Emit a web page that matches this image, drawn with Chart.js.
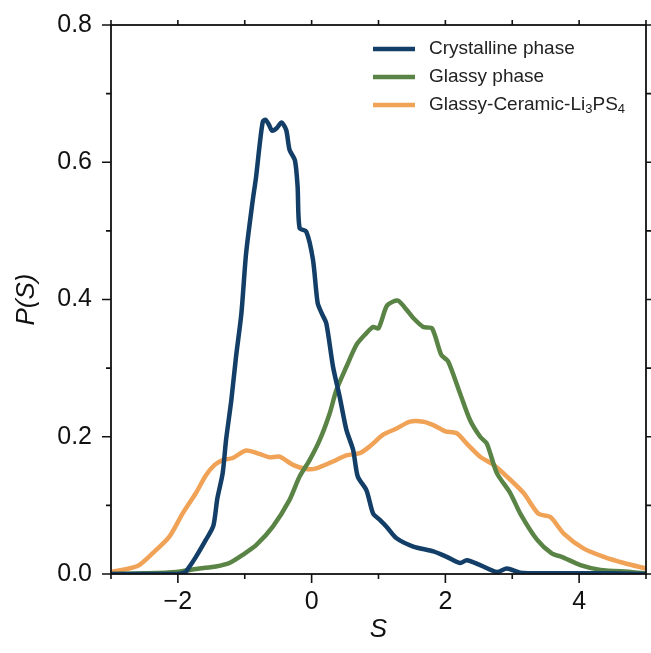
<!DOCTYPE html>
<html>
<head>
<meta charset="utf-8">
<script src="https://cdn.jsdelivr.net/npm/chart.js@4"></script>
<style>
  html, body { margin: 0; padding: 0; background: #fff; }
  #wrap { width: 651px; height: 653px; }
</style>
</head>
<body>
<div id="wrap"><canvas id="distChart" width="651" height="653"></canvas></div>
<script>
// Crystalline phase
const crystS = [-3.0, -2.5, -2.0, -1.9, -1.86, -1.73, -1.58, -1.47, -1.41, -1.33, -1.28, -1.20, -1.13, -1.05, -0.98, -0.88, -0.83, -0.78, -0.73, -0.69, -0.64, -0.59, -0.52, -0.45, -0.38, -0.33, -0.25, -0.21, -0.18, -0.08, 0.02, 0.09, 0.15, 0.22, 0.32, 0.42, 0.52, 0.62, 0.69, 0.82, 0.92, 1.02, 1.12, 1.27, 1.52, 1.82, 2.02, 2.22, 2.32, 2.52, 2.77, 2.92, 3.12, 3.5, 4.0, 4.5, 5.0];
const crystP = [0, 0, 0, 0.002, 0.006, 0.025, 0.05, 0.07, 0.11, 0.147, 0.195, 0.254, 0.317, 0.38, 0.467, 0.545, 0.579, 0.623, 0.659, 0.662, 0.655, 0.646, 0.65, 0.658, 0.647, 0.618, 0.603, 0.565, 0.504, 0.499, 0.458, 0.395, 0.38, 0.365, 0.302, 0.258, 0.21, 0.181, 0.142, 0.122, 0.088, 0.079, 0.069, 0.052, 0.04, 0.033, 0.025, 0.016, 0.02, 0.013, 0.003, 0.008, 0.002, 0.001, 0.001, 0.001, 0];

// Glassy phase
const glassS = [-3.0, -2.5, -2.03, -1.68, -1.43, -1.23, -1.03, -0.83, -0.58, -0.33, -0.18, -0.03, 0.12, 0.27, 0.37, 0.52, 0.67, 0.82, 0.92, 1.0, 1.12, 1.22, 1.3, 1.42, 1.52, 1.67, 1.8, 1.94, 2.04, 2.22, 2.37, 2.52, 2.62, 2.77, 2.97, 3.12, 3.37, 3.59, 3.74, 4.02, 4.32, 4.77, 5.0];
const glassP = [0, 0.001, 0.003, 0.008, 0.011, 0.016, 0.028, 0.042, 0.069, 0.108, 0.142, 0.166, 0.195, 0.234, 0.268, 0.302, 0.334, 0.351, 0.36, 0.358, 0.39, 0.397, 0.398, 0.385, 0.373, 0.36, 0.358, 0.319, 0.31, 0.263, 0.224, 0.2, 0.19, 0.147, 0.118, 0.088, 0.05, 0.03, 0.025, 0.013, 0.006, 0.003, 0.001];

// Glassy-Ceramic-Li3PS4
const ceramS = [-3.0, -2.73, -2.58, -2.38, -2.13, -1.93, -1.73, -1.58, -1.45, -1.33, -1.18, -0.98, -0.78, -0.63, -0.48, -0.28, -0.08, 0.07, 0.32, 0.52, 0.72, 0.87, 1.07, 1.27, 1.47, 1.67, 1.82, 2.0, 2.17, 2.32, 2.52, 2.72, 2.92, 3.17, 3.39, 3.57, 3.77, 4.07, 4.37, 4.67, 5.0];
const ceramP = [0.003, 0.008, 0.013, 0.03, 0.054, 0.088, 0.118, 0.144, 0.159, 0.166, 0.169, 0.18, 0.175, 0.17, 0.171, 0.159, 0.153, 0.154, 0.164, 0.173, 0.176, 0.186, 0.203, 0.212, 0.222, 0.222, 0.217, 0.208, 0.205, 0.19, 0.171, 0.159, 0.142, 0.118, 0.088, 0.083, 0.059, 0.037, 0.025, 0.016, 0.008];

const seriesNames = ['Crystalline phase', 'Glassy phase', 'Glassy-Ceramic-Li3PS4'];
const seriesColors = ['#123e67', '#5a8445', '#f0a257'];

const xMin = -3, xMax = 5, yMin = 0, yMax = 0.8;
const fontFamily = '"Liberation Sans", Arial, sans-serif';

function toPoints(xs, ys) {
    return xs.map((x, i) => ({ x: x, y: ys[i] }));
}

const datasets = [
    toPoints(crystS, crystP),
    toPoints(glassS, glassP),
    toPoints(ceramS, ceramP)
].map((pts, i) => ({
    label: seriesNames[i],
    data: pts,
    borderColor: seriesColors[i],
    backgroundColor: seriesColors[i],
    borderWidth: 4.5,
    pointRadius: 0,
    tension: 0.25,
    borderJoinStyle: 'round',
    borderCapStyle: 'round',
    fill: false
}));

// frame, tick marks and legend
const framePlugin = {
    id: 'framePlugin',
    afterDraw(chart) {
        const ctx = chart.ctx;
        const a = chart.chartArea;
        const xs = chart.scales.x, ys = chart.scales.y;
        ctx.save();
        ctx.strokeStyle = '#111';
        ctx.lineWidth = 1.8;
        ctx.strokeRect(a.left, a.top, a.right - a.left, a.bottom - a.top);

        ctx.lineWidth = 1.6;
        ctx.beginPath();
        for (let v = xMin; v <= xMax; v++) {
            const px = xs.getPixelForValue(v);
            const len = (v % 2 === 0) ? 9 : 5;
            ctx.moveTo(px, a.bottom); ctx.lineTo(px, a.bottom + len);
            ctx.moveTo(px, a.top); ctx.lineTo(px, a.top - 5);
        }
        for (let k = 0; k <= 8; k++) {
            const py = ys.getPixelForValue(k / 10);
            const len = (k % 2 === 0) ? 9 : 5;
            ctx.moveTo(a.left, py); ctx.lineTo(a.left - len, py);
            ctx.moveTo(a.right, py); ctx.lineTo(a.right + 5, py);
        }
        ctx.stroke();

        // legend
        const lx0 = 373, lx1 = 415, tx = 429;
        const rows = [49, 77, 105];
        ctx.textBaseline = 'middle';
        ctx.textAlign = 'left';
        rows.forEach((ry, i) => {
            ctx.strokeStyle = seriesColors[i];
            ctx.lineWidth = 4.5;
            ctx.beginPath();
            ctx.moveTo(lx0, ry); ctx.lineTo(lx1, ry);
            ctx.stroke();
            ctx.fillStyle = '#222';
            ctx.font = '19px ' + fontFamily;
            if (i < 2) {
                ctx.fillText(seriesNames[i], tx, ry);
            } else {
                // Glassy-Ceramic-Li3PS4 with subscripts
                const parts = [['Glassy-Ceramic-Li', false], ['3', true], ['PS', false], ['4', true]];
                let cx = tx;
                parts.forEach(([t, sub]) => {
                    ctx.font = (sub ? '13px ' : '19px ') + fontFamily;
                    ctx.fillText(t, cx, sub ? ry + 4 : ry);
                    cx += ctx.measureText(t).width;
                });
            }
        });
        ctx.restore();
    }
};

document.addEventListener('DOMContentLoaded', function() {
    const ctx = document.getElementById('distChart').getContext('2d');
    new Chart(ctx, {
        type: 'line',
        data: { datasets: datasets },
        options: {
            responsive: false,
            animation: false,
            layout: { padding: { top: 25, right: 5, left: 0, bottom: 0 } },
            plugins: { legend: { display: false }, tooltip: { enabled: false } },
            scales: {
                x: {
                    type: 'linear',
                    min: xMin, max: xMax,
                    afterFit: s => { s.height = 79; },
                    grid: { display: true, drawOnChartArea: false, drawTicks: true, tickLength: 9, color: 'transparent' },
                    border: { display: false },
                    ticks: {
                        stepSize: 1,
                        padding: 4,
                        color: '#111',
                        font: { family: fontFamily, size: 25 },
                        maxRotation: 0,
                        autoSkip: false,
                        callback: v => (v % 2 === 0 && v > xMin) ? String(v).replace('-', '\u2212') : ''
                    },
                    title: {
                        display: true,
                        text: 'S',
                        color: '#111',
                        font: { family: fontFamily, size: 26, style: 'italic' },
                        padding: { top: 0, bottom: 8 }
                    }
                },
                y: {
                    type: 'linear',
                    min: yMin, max: yMax,
                    afterFit: s => { s.width = 111; },
                    grid: { display: true, drawOnChartArea: false, drawTicks: true, tickLength: 9, color: 'transparent' },
                    border: { display: false },
                    ticks: {
                        stepSize: 0.1,
                        padding: 10,
                        color: '#111',
                        font: { family: fontFamily, size: 25 },
                        autoSkip: false,
                        callback: v => (Math.round(v * 10) % 2 === 0) ? v.toFixed(1) : ''
                    },
                    title: {
                        display: true,
                        text: 'P(S)',
                        color: '#111',
                        font: { family: fontFamily, size: 26, style: 'italic' },
                        padding: { top: 11, bottom: 0 }
                    }
                }
            }
        },
        plugins: [framePlugin]
    });
});
</script>
</body>
</html>
